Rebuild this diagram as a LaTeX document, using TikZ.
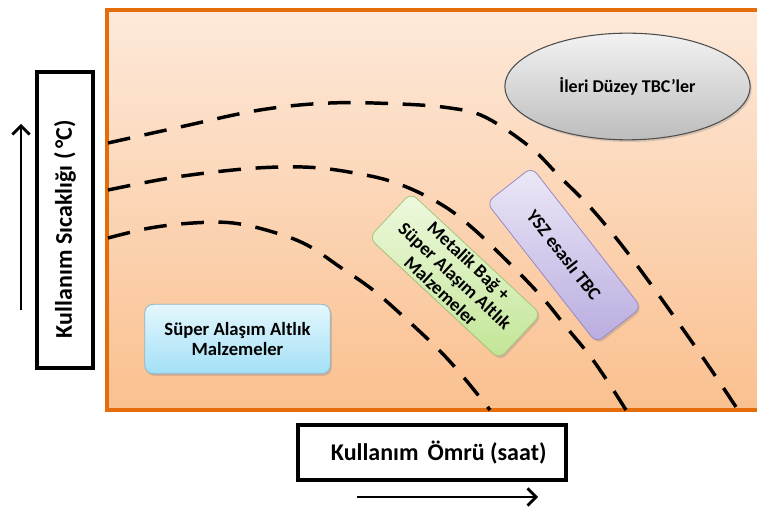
\documentclass[tikz,border=0pt]{standalone}
\usepackage{fontspec}
\setmainfont{Carlito}
\usetikzlibrary{shapes.geometric,shadows,arrows.meta}

\definecolor{frameorange}{HTML}{E46C0A}
\definecolor{paneltop}{HTML}{FDE9DA}
\definecolor{panelbottom}{HTML}{FAC08F}
\definecolor{greytop}{HTML}{F2F2F2}
\definecolor{greybottom}{HTML}{BDBDBD}
\definecolor{greyline}{HTML}{4D4D4D}
\definecolor{bluetop}{HTML}{E4F7FD}
\definecolor{bluebottom}{HTML}{A3E0F6}
\definecolor{blueline}{HTML}{8FB6C9}
\definecolor{greentop}{HTML}{EEF9DE}
\definecolor{greenbottom}{HTML}{C2E596}
\definecolor{greenline}{HTML}{A6C57A}
\definecolor{purpletop}{HTML}{ECE8F7}
\definecolor{purplebottom}{HTML}{B9ACDF}
\definecolor{purpleline}{HTML}{9A88C2}

\begin{document}
\begin{tikzpicture}[x=0.75pt,y=-0.75pt,
  curve/.style={line width=2.6pt, dash pattern=on 17pt off 11pt, black},
  labelbox/.style={draw=black, line width=3pt, fill=white, inner sep=0pt},
  axistext/.style={font=\bfseries\fontsize{18}{21}\selectfont, inner sep=0pt},
  axisarrow/.style={line width=2pt,
    -{Straight Barb[length=6.5pt,width=13pt,line width=2pt]}},
  regionbox/.style={rounded corners=6pt, align=center, line width=0.6pt,
    font=\bfseries\fontsize{14}{15.5}\selectfont, inner sep=0pt,
    drop shadow={opacity=0.3, shadow xshift=1.2pt, shadow yshift=-1.6pt}},
]
\useasboundingbox (0,0) rectangle (757,509);

% chart panel
\shade[top color=paneltop, bottom color=panelbottom] (107,10) rectangle (757,410);
\draw[frameorange, line width=2.5pt] (757,10) -- (107,10) -- (107,410) -- (757,410);

% limit curves
\draw[curve] plot[smooth, tension=0.6] coordinates {
  (108,143) (180,127) (260,110) (330,103) (400,104) (450,108) (485,117)
  (530,147) (560,177) (590,207) (620,243) (650,283) (680,325) (710,368) (738,410)};
\draw[curve] plot[smooth, tension=0.6] coordinates {
  (108,190) (170,178) (233,170) (280,167) (320,168) (360,174) (390,181)
  (420,193) (450,210) (477,232) (503,257) (527,281) (547,303) (567,328)
  (590,356) (610,385) (626,410)};
\draw[curve] plot[smooth, tension=0.6] coordinates {
  (108,238) (150,228) (193,223) (233,223) (273,232) (307,245) (340,267)
  (373,290) (405,318) (440,351) (465,379) (490,410)};

% regions
\node[ellipse, draw=greyline, line width=0.8pt, top color=greytop, bottom color=greybottom,
  minimum width=184pt, minimum height=80pt, inner sep=0pt,
  font=\bfseries\fontsize{13.5}{16}\selectfont,
  drop shadow={opacity=0.3, shadow xshift=1.2pt, shadow yshift=-1.6pt}]
  (advanced) at (627.5,86.5) {İleri Düzey TBC’ler};

\node[regionbox, draw=blueline, top color=bluetop, bottom color=bluebottom,
  minimum width=139pt, minimum height=52pt]
  (superalloy) at (237.5,339) {Süper Alaşım Altlık\\Malzemeler};

\node[regionbox, draw=greenline, top color=greentop, bottom color=greenbottom,
  minimum width=133.5pt, minimum height=46pt, rotate=-43]
  (bondcoat) at (455,276) {Metalik Bağ +\\Süper Alaşım Altlık\\Malzemeler};

\node[regionbox, draw=purpleline, top color=purpletop, bottom color=purplebottom,
  minimum width=133.5pt, minimum height=43pt, rotate=-52]
  (ysz) at (564,255) {YSZ esaslı TBC};

% axis labels
\node[labelbox, minimum width=42pt, minimum height=222pt] (ylabel) at (65,220) {};
\node[axistext, rotate=90] (ytext) at ([yshift=-7pt]ylabel.center)
  {Kullanım Sıcaklığı (\hspace{0.15em}°C)};
\node[labelbox, minimum width=201pt, minimum height=41pt] (xlabel) at (432,452.5) {};
\node[axistext] (xtext) at ([xshift=5pt]xlabel.center)
  {Kullanım\hspace{0.15em} Ömrü (saat)};

% axis direction arrows
\coordinate (ytail) at (21,310);
\coordinate (yhead) at (21,124);
\coordinate (xtail) at (357,497);
\coordinate (xhead) at (538,497);
\draw[axisarrow] (ytail) -- (yhead);
\draw[axisarrow] (xtail) -- (xhead);
\end{tikzpicture}
\end{document}
